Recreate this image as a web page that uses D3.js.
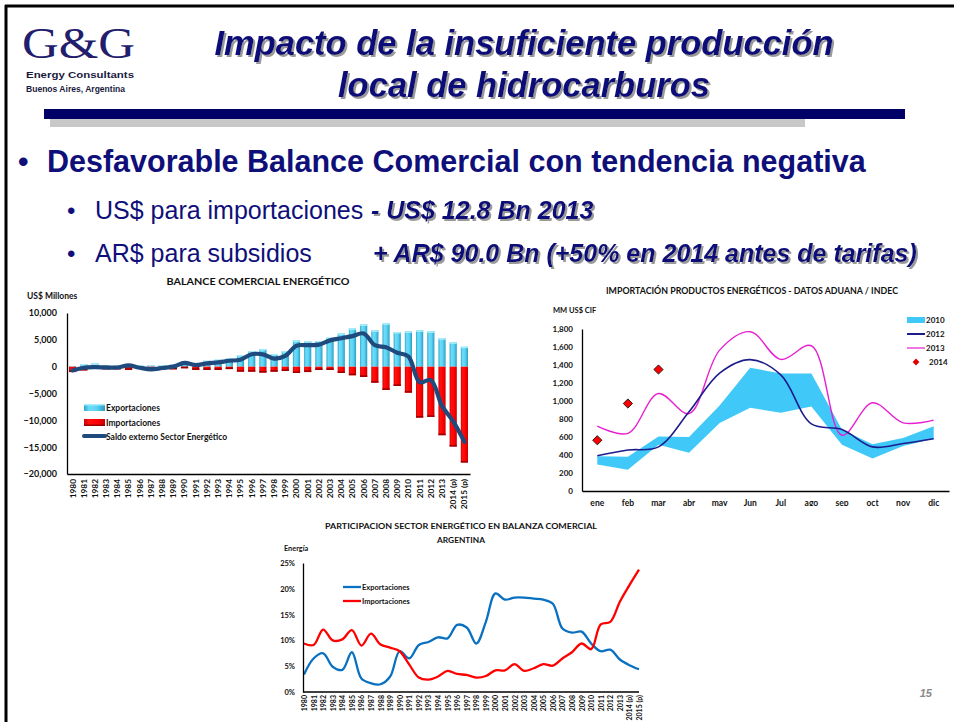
<!DOCTYPE html>
<html><head><meta charset="utf-8">
<script src="https://cdn.jsdelivr.net/npm/d3@7"></script>
<style>body{margin:0;background:#fff}svg{display:block}</style>
</head><body>
<svg id="c" width="954" height="722"></svg>
<script>
// ---------- DATA ----------
const years = ['1980','1981','1982','1983','1984','1985','1986','1987','1988','1989','1990','1991','1992','1993','1994','1995','1996','1997','1998','1999','2000','2001','2002','2003','2004','2005','2006','2007','2008','2009','2010','2011','2012','2013','2014 (p)','2015 (p)'];
const exportsVal = [100,500,600,200,200,400,200,250,300,400,900,700,1100,1300,1550,2170,2900,3290,2360,2900,4900,4770,4770,5400,6200,7130,7870,6760,8060,6450,6570,6760,6570,5270,4530,3720];
const importsVal = [-1000,-700,-400,-500,-500,-600,-400,-800,-500,-500,-300,-600,-600,-600,-450,-930,-930,-1100,-930,-800,-1180,-1000,-620,-620,-1180,-1600,-1920,-2980,-4340,-3600,-4840,-9490,-9360,-12770,-14880,-17860];
const saldoVal = [-700,-200,-100,-150,-150,250,-200,-500,-250,0,700,300,600,800,1100,1300,2300,2300,1500,2000,3900,4000,4100,4900,5300,5700,6200,4000,3600,2600,1900,-2900,-2500,-7300,-10200,-14000];
const balanceTicks = [10000,5000,0,-5000,-10000,-15000,-20000];

const months = ['ene','feb','mar','abr','may','Jun','Jul','ago','sep','oct','nov','dic'];
const imp2010High = [385,380,605,600,950,1370,1305,1305,680,520,590,720];
const imp2010Low  = [295,235,515,425,755,925,870,940,515,360,500,580];
const imp2012 = [392,455,490,880,1310,1460,1290,745,683,490,527,580];
const imp2013 = [720,640,1083,860,1565,1770,1462,1614,620,980,757,787];
const imp2014 = [564,972,1350];
const importTicks = [0,200,400,600,800,1000,1200,1400,1600,1800];

const partExp = [3.4,6.5,7.5,4.9,4.3,7.7,2.6,1.7,1.5,3.0,7.9,6.5,9.1,9.7,10.6,10.4,13.0,12.5,9.4,13.6,19.1,17.9,18.3,18.3,18.1,17.9,17.1,12.3,11.5,11.7,9.4,7.9,8.2,6.3,5.2,4.4];
const partImp = [9.4,9.1,12.1,10.0,10.2,12.0,9.0,11.3,9.2,8.6,7.9,5.3,2.8,2.4,3.0,4.1,3.5,3.3,2.8,3.1,4.2,4.2,5.4,4.1,4.6,5.4,5.1,6.5,7.7,9.4,8.3,13.1,13.6,17.5,20.7,23.7];
const partTicks = [0,5,10,15,20,25];

// ---------- SETUP ----------
const svg = d3.select('#c');
const NAVY = '#0f0f7a';
const CF = 'Lato, "Open Sans", sans-serif';
const AF = '"Liberation Sans", Arial, sans-serif';
svg.append('rect').attr('width',954).attr('height',722).attr('fill','#fff');

const defs = svg.append('defs');
const gExp = defs.append('linearGradient').attr('id','gExp').attr('x1',0).attr('x2',1).attr('y1',0).attr('y2',0);
[['0%','#2ea6cc'],['25%','#6ddcf8'],['60%','#5cd3f4'],['100%','#2b9dc2']].forEach(s=>gExp.append('stop').attr('offset',s[0]).attr('stop-color',s[1]));
const gImp = defs.append('linearGradient').attr('id','gImp').attr('x1',0).attr('x2',1).attr('y1',0).attr('y2',0);
[['0%','#d40000'],['25%','#ff1010'],['65%','#ff0000'],['100%','#c80000']].forEach(s=>gImp.append('stop').attr('offset',s[0]).attr('stop-color',s[1]));
defs.append('clipPath').attr('id','clipR').append('rect').attr('x',520).attr('y',270).attr('width',434).attr('height',236);
const sh = defs.append('filter').attr('id','sh').attr('x','-5%').attr('y','-20%').attr('width','115%').attr('height','150%');
sh.append('feDropShadow').attr('dx',2).attr('dy',2).attr('stdDeviation',0.3).attr('flood-color','#9a9a9a').attr('flood-opacity',1);

// frame
svg.append('line').attr('x1',5).attr('x2',954).attr('y1',6).attr('y2',6).attr('stroke','#000').attr('stroke-width',3);
svg.append('line').attr('x1',6).attr('x2',6).attr('y1',5).attr('y2',722).attr('stroke','#000').attr('stroke-width',3);

// logo
svg.append('text').attr('x',22).attr('y',58).attr('font-family','"Liberation Serif", serif').attr('font-size',44)
  .attr('fill','#231d6e').attr('textLength',113).attr('lengthAdjust','spacingAndGlyphs').text('G&G');
svg.append('text').attr('x',26).attr('y',78).attr('font-family',AF).attr('font-size',8.5).attr('font-weight','bold').attr('fill','#1a1a40')
  .attr('textLength',108).attr('lengthAdjust','spacingAndGlyphs').text('Energy Consultants');
svg.append('text').attr('x',26).attr('y',92).attr('font-family',AF).attr('font-size',8.5).attr('font-weight','bold').attr('fill','#1a1a40')
  .attr('textLength',99).attr('lengthAdjust','spacingAndGlyphs').text('Buenos Aires, Argentina');

// title with shadow
function shadowText(x,y,txt,size,weight,style,anchor){
  svg.append('text').attr('x',x).attr('y',y).attr('font-family',AF).attr('font-size',size)
    .attr('font-weight',weight).attr('font-style',style).attr('text-anchor',anchor||'start').attr('fill',NAVY)
    .attr('filter','url(#sh)').text(txt);
}
shadowText(524,55,'Impacto de la insuficiente producción',34.5,'bold','italic','middle');
shadowText(524,97,'local de hidrocarburos',34.5,'bold','italic','middle');
svg.append('rect').attr('x',50).attr('y',119).attr('width',755).attr('height',8).attr('fill','#c8c8c8');
svg.append('rect').attr('x',44).attr('y',109).attr('width',861).attr('height',10).attr('fill','#000066');

// bullets
svg.append('text').attr('x',18).attr('y',172).attr('font-family',AF).attr('font-size',30).attr('font-weight','bold').attr('fill',NAVY).text('•');
svg.append('text').attr('x',47).attr('y',172).attr('font-family',AF).attr('font-size',30.5).attr('font-weight','bold').attr('fill',NAVY)
  .text('Desfavorable Balance Comercial con tendencia negativa');
svg.append('text').attr('x',67).attr('y',219).attr('font-family',AF).attr('font-size',24).attr('fill',NAVY).text('•');
svg.append('text').attr('x',95).attr('y',219).attr('font-family',AF).attr('font-size',25).attr('fill',NAVY).text('US$ para importaciones');
shadowText(371,219,'- US$ 12.8 Bn 2013',25,'bold','italic');
svg.append('text').attr('x',67).attr('y',262).attr('font-family',AF).attr('font-size',24).attr('fill',NAVY).text('•');
svg.append('text').attr('x',95).attr('y',262).attr('font-family',AF).attr('font-size',25).attr('fill',NAVY).text('AR$ para subsidios');
shadowText(373,262,'+ AR$ 90.0 Bn (+50% en 2014 antes de tarifas)',25,'bold','italic');

// page number
svg.append('text').attr('x',932).attr('y',697).attr('text-anchor','end').attr('font-family',AF).attr('font-size',11)
  .attr('font-style','italic').attr('font-weight','bold').attr('fill','#8a8a8a').text('15');

function label(x,y,txt,size,anchor,len){
  const t = svg.append('text').attr('x',x).attr('y',y).attr('font-family',CF).attr('font-weight','bold')
   .attr('font-size',size).attr('text-anchor',anchor||'start').attr('fill','#111').text(txt);
  if(len) t.attr('textLength',len).attr('lengthAdjust','spacingAndGlyphs');
  return t;
}
function styleAxis(g,size){
  g.selectAll('text').attr('font-family',CF).attr('font-weight','bold').attr('font-size',size).attr('fill','#111');
  g.select('.domain').attr('stroke','#000').attr('stroke-width',1.3);
  g.selectAll('.tick line').remove();
}

// ---------- LEFT CHART ----------
label(258,285,'BALANCE COMERCIAL ENERGÉTICO',9,'middle',183);
label(27,299,'US$ Millones',8.5,'start');
const xL = d3.scaleBand().domain(years).range([67,470]);
const yL = d3.scaleLinear().domain([-20000,10000]).range([474,313]);
const bw = 7.2;
const gL = svg.append('g');
gL.selectAll('.exp').data(years).join('rect')
  .attr('x',d=>xL(d)+xL.bandwidth()/2-bw/2).attr('width',bw)
  .attr('y',(d,i)=>yL(exportsVal[i])).attr('height',(d,i)=>yL(0)-yL(exportsVal[i]))
  .attr('fill','url(#gExp)');
gL.selectAll('.expcap').data(years).join('rect')
  .attr('x',d=>xL(d)+xL.bandwidth()/2-bw/2).attr('width',bw)
  .attr('y',(d,i)=>yL(exportsVal[i])).attr('height',(d,i)=>Math.min(1.5,yL(0)-yL(exportsVal[i])))
  .attr('fill','#a6eefc');
gL.selectAll('.imp').data(years).join('rect')
  .attr('x',d=>xL(d)+xL.bandwidth()/2-bw/2).attr('width',bw)
  .attr('y',yL(0)).attr('height',(d,i)=>yL(importsVal[i])-yL(0))
  .attr('fill','url(#gImp)');
gL.selectAll('.impcap').data(years).join('rect')
  .attr('x',d=>xL(d)+xL.bandwidth()/2-bw/2).attr('width',bw)
  .attr('y',(d,i)=>yL(importsVal[i])-1.6).attr('height',1.6)
  .attr('fill','#9a0000');
const lineL = d3.line().x((d,i)=>xL(years[i])+xL.bandwidth()/2).y(d=>yL(d)).curve(d3.curveCatmullRom.alpha(0.5));
gL.append('path').attr('d',lineL(saldoVal)).attr('fill','none').attr('stroke','#1f4a7e').attr('stroke-width',4.2).attr('stroke-linecap','round');
const axLy = svg.append('g').attr('transform','translate(67,0)').call(d3.axisLeft(yL).tickValues(balanceTicks).tickFormat(d3.format(',')).tickSize(0).tickPadding(10));
styleAxis(axLy,9);
const axLx = svg.append('g').attr('transform','translate(0,474)').call(d3.axisBottom(xL).tickSize(0).tickSizeOuter(0));
styleAxis(axLx,8.3);
axLx.selectAll('.tick text').attr('transform','rotate(-90)').attr('text-anchor','end').attr('dx','-5').attr('dy','0.35em').attr('y',0).attr('x',0);
// legend
svg.append('rect').attr('x',84).attr('y',404).attr('width',21).attr('height',7).attr('fill','url(#gExp)');
svg.append('rect').attr('x',84).attr('y',404).attr('width',21).attr('height',1.5).attr('fill','#a6eefc');
svg.append('rect').attr('x',84).attr('y',419).attr('width',21).attr('height',7).attr('fill','url(#gImp)');
svg.append('rect').attr('x',84).attr('y',424.5).attr('width',21).attr('height',1.5).attr('fill','#9a0000');
svg.append('line').attr('x1',84).attr('x2',105).attr('y1',436).attr('y2',436).attr('stroke','#1f4a7e').attr('stroke-width',4).attr('stroke-linecap','round');
label(106,411,'Exportaciones',8.5);
label(106,426,'Importaciones',8.5);
label(106,439.5,'Saldo externo Sector Energético',8.5);

// ---------- RIGHT CHART ----------
const gR = svg.append('g').attr('clip-path','url(#clipR)');
label(752,294,'IMPORTACIÓN PRODUCTOS ENERGÉTICOS - DATOS ADUANA / INDEC',8.5,'middle',292);
label(553,313,'MM US$ CIF',7.5,'start');
const xR = d3.scaleBand().domain(months).range([582,949]);
const yR = d3.scaleLinear().domain([0,1800]).range([491,329]);
const cx = m=>xR(m)+xR.bandwidth()/2;
const area2010 = d3.area().x((d,i)=>cx(months[i])).y0((d,i)=>yR(imp2010Low[i])).y1(d=>yR(d));
gR.append('path').attr('d',area2010(imp2010High)).attr('fill','#3fc8f8');
const lineR = d3.line().x((d,i)=>cx(months[i])).y(d=>yR(d)).curve(d3.curveCatmullRom.alpha(0.5));
gR.append('path').attr('d',lineR(imp2013)).attr('fill','none').attr('stroke','#e81fd0').attr('stroke-width',1.4);
gR.append('path').attr('d',lineR(imp2012)).attr('fill','none').attr('stroke','#1c1c8c').attr('stroke-width',1.6);
const diamond = 'M0,-4.6L4.6,0L0,4.6L-4.6,0Z';
gR.selectAll('.d14').data(imp2014).join('path')
  .attr('transform',(d,i)=>`translate(${cx(months[i])},${yR(d)})`).attr('d',diamond)
  .attr('fill','#ff0000').attr('stroke','#111').attr('stroke-width',0.9);
const axRy = gR.append('g').attr('transform','translate(582,0)').call(d3.axisLeft(yR).tickValues(importTicks).tickFormat(d3.format(',')).tickSize(0).tickPadding(9));
styleAxis(axRy,8);
const axRx = gR.append('g').attr('transform','translate(0,491)').call(d3.axisBottom(xR).tickSize(0).tickSizeOuter(0).tickPadding(9));
styleAxis(axRx,8.5);
// legend
gR.append('rect').attr('x',907).attr('y',317).attr('width',18).attr('height',6).attr('fill','#3fc8f8');
gR.append('line').attr('x1',907).attr('x2',925).attr('y1',334).attr('y2',334).attr('stroke','#1c1c8c').attr('stroke-width',2);
gR.append('line').attr('x1',907).attr('x2',925).attr('y1',348).attr('y2',348).attr('stroke','#e81fd0').attr('stroke-width',1.2);
gR.append('path').attr('transform','translate(916,362)').attr('d','M0,-3.4L3.4,0L0,3.4L-3.4,0Z').attr('fill','#e00000');
[['2010',323],['2012',337],['2013',351],['2014',365]].forEach(l=>{
  gR.append('text').attr('x',l[0]==='2014'?929:926).attr('y',l[1]).attr('font-family',CF).attr('font-weight','bold').attr('font-size',8).attr('fill','#111').text(l[0]);
});

// ---------- BOTTOM CHART ----------
label(461,529,'PARTICIPACION SECTOR ENERGÉTICO EN BALANZA COMERCIAL',8.3,'middle',272);
label(461,543,'ARGENTINA',8.3,'middle');
label(284,551,'Energía',7.3,'start');
const xB = d3.scalePoint().domain(years).range([304,639]);
const yB = d3.scaleLinear().domain([0,25]).range([692,563]);
const lineB = d3.line().x((d,i)=>xB(years[i])).y(d=>yB(d)).curve(d3.curveCatmullRom.alpha(0.5));
svg.append('path').attr('d',lineB(partExp)).attr('fill','none').attr('stroke','#0a70c0').attr('stroke-width',2.3);
svg.append('path').attr('d',lineB(partImp)).attr('fill','none').attr('stroke','#ff0000').attr('stroke-width',2.3);
const axBy = svg.append('g').attr('transform','translate(303,0)').call(d3.axisLeft(yB).tickValues(partTicks).tickFormat(d=>d+'%').tickSize(0).tickPadding(8));
styleAxis(axBy,7.5);
const axBx = svg.append('g').attr('transform','translate(0,692)').call(d3.axisBottom(xB).tickSize(0).tickSizeOuter(0));
styleAxis(axBx,7);
axBx.select('.domain').attr('d','M303,0H639');
axBx.selectAll('.tick text').attr('transform','rotate(-90)').attr('text-anchor','end').attr('dx','-3').attr('dy','0.35em').attr('y',0).attr('x',0);
svg.append('line').attr('x1',343).attr('x2',361).attr('y1',587).attr('y2',587).attr('stroke','#0a70c0').attr('stroke-width',2.3);
svg.append('line').attr('x1',343).attr('x2',361).attr('y1',601).attr('y2',601).attr('stroke','#ff0000').attr('stroke-width',2.3);
label(362,590,'Exportaciones',7.5);
label(362,604,'Importaciones',7.5);
</script>
</body></html>
